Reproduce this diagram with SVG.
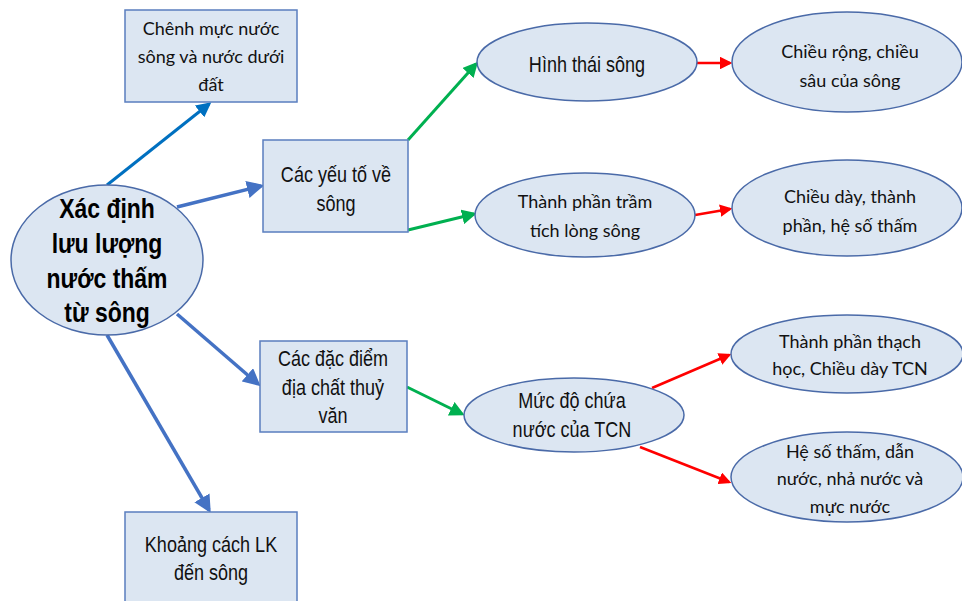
<svg xmlns="http://www.w3.org/2000/svg" width="962" height="601" viewBox="0 0 962 601">
<style>
.box{fill:#dce6f2;stroke:#5a7ebf;stroke-width:1.5}
.ell{fill:#dce6f2;stroke:#4a6aa8;stroke-width:1.5}
.n{font-family:"Liberation Sans",Arial,sans-serif;font-size:22px;fill:#111;text-anchor:middle}
.c{font-family:Lato,"Noto Sans",sans-serif;font-size:18px;fill:#111;text-anchor:middle}
.b{font-family:"Liberation Sans",Arial,sans-serif;font-size:28px;font-weight:bold;fill:#000;text-anchor:middle}
.blue1{stroke:#0070c0;stroke-width:3;fill:none}
.blue{stroke:#4472c4;stroke-width:3.5;fill:none}
.green{stroke:#00b050;stroke-width:3;fill:none}
.red{stroke:#ff0000;stroke-width:2.5;fill:none}
</style>
<defs>
<marker id="ab1" markerWidth="5" markerHeight="5" refX="4" refY="2.5" orient="auto" markerUnits="strokeWidth"><path d="M0,0 L5,2.5 L0,5 Z" fill="#0070c0"/></marker>
<marker id="ab" markerWidth="5" markerHeight="5" refX="4" refY="2.5" orient="auto" markerUnits="strokeWidth"><path d="M0,0 L5,2.5 L0,5 Z" fill="#4472c4"/></marker>
<marker id="ag" markerWidth="5" markerHeight="5" refX="4" refY="2.5" orient="auto" markerUnits="strokeWidth"><path d="M0,0 L5,2.5 L0,5 Z" fill="#00b050"/></marker>
<marker id="ar" markerWidth="5" markerHeight="5" refX="4" refY="2.5" orient="auto" markerUnits="strokeWidth"><path d="M0,0 L5,2.5 L0,5 Z" fill="#ff0000"/></marker>
</defs>
<rect width="962" height="601" fill="#fff"/>
<g id="connectors">
<line class="blue1" x1="107" y1="185" x2="209" y2="104" marker-end="url(#ab1)"/>
<line class="blue" x1="177" y1="207" x2="261" y2="186" marker-end="url(#ab)"/>
<line class="blue" x1="177" y1="314" x2="258" y2="384" marker-end="url(#ab)"/>
<line class="blue" x1="107" y1="335" x2="209" y2="510" marker-end="url(#ab)"/>
<line class="green" x1="408" y1="140" x2="476" y2="64" marker-end="url(#ag)"/>
<line class="green" x1="408" y1="230" x2="474" y2="214" marker-end="url(#ag)"/>
<line class="green" x1="407" y1="387" x2="462" y2="414" marker-end="url(#ag)"/>
<line class="red" x1="697" y1="63" x2="730" y2="63" marker-end="url(#ar)"/>
<line class="red" x1="695" y1="215" x2="730" y2="209" marker-end="url(#ar)"/>
<line class="red" x1="652" y1="388" x2="729" y2="355" marker-end="url(#ar)"/>
<line class="red" x1="640" y1="447" x2="729" y2="482" marker-end="url(#ar)"/>
</g>
<g id="center">
<ellipse class="ell" cx="107" cy="260" rx="96" ry="75"/>
<g transform="translate(107 0) scale(0.82 1)">
<text class="b" x="0" y="218">Xác định</text>
<text class="b" x="0" y="253">lưu lượng</text>
<text class="b" x="0" y="288">nước thấm</text>
<text class="b" x="0" y="322">từ sông</text>
</g>
</g>
<g id="chenh-muc-nuoc">
<rect class="box" x="125" y="10" width="172" height="92"/>
<text class="c" x="211" y="35">Chênh mực nước</text>
<text class="c" x="211" y="63">sông và nước dưới</text>
<text class="c" x="211" y="91">đất</text>
</g>
<g id="yeu-to-song">
<rect class="box" x="263" y="140" width="145" height="92"/>
<g transform="translate(336 0) scale(0.82 1)">
<text class="n" x="0" y="182">Các yếu tố về</text>
<text class="n" x="0" y="211">sông</text>
</g>
</g>
<g id="dia-chat-thuy-van">
<rect class="box" x="260" y="341" width="147" height="91"/>
<g transform="translate(333 0) scale(0.82 1)">
<text class="n" x="0" y="366">Các đặc điểm</text>
<text class="n" x="0" y="395">địa chất thuỷ</text>
<text class="n" x="0" y="423">văn</text>
</g>
</g>
<g id="khoang-cach">
<rect class="box" x="125" y="512" width="172" height="100"/>
<g transform="translate(211 0) scale(0.82 1)">
<text class="n" x="0" y="552">Khoảng cách LK</text>
<text class="n" x="0" y="580">đến sông</text>
</g>
</g>
<g id="hinh-thai-song">
<ellipse class="ell" cx="587" cy="62" rx="110" ry="39"/>
<g transform="translate(587 0) scale(0.82 1)">
<text class="n" x="0" y="72">Hình thái sông</text>
</g>
</g>
<g id="chieu-rong">
<ellipse class="ell" cx="847" cy="62" rx="115" ry="50"/>
<text class="c" x="850" y="58">Chiều rộng, chiều</text>
<text class="c" x="850" y="87">sâu của sông</text>
</g>
<g id="tram-tich">
<ellipse class="ell" cx="585" cy="215" rx="110" ry="42"/>
<text class="c" x="585" y="208">Thành phần trầm</text>
<text class="c" x="585" y="237">tích lòng sông</text>
</g>
<g id="chieu-day">
<ellipse class="ell" cx="847" cy="208" rx="115" ry="48"/>
<text class="c" x="850" y="203">Chiều dày, thành</text>
<text class="c" x="850" y="232">phần, hệ số thấm</text>
</g>
<g id="muc-do-chua">
<ellipse class="ell" cx="574" cy="415" rx="110" ry="37"/>
<g transform="translate(572 0) scale(0.82 1)">
<text class="n" x="0" y="408">Mức độ chứa</text>
<text class="n" x="0" y="437">nước của TCN</text>
</g>
</g>
<g id="thach-hoc">
<ellipse class="ell" cx="847" cy="354" rx="116" ry="39"/>
<text class="c" x="850" y="348">Thành phần thạch</text>
<text class="c" x="850" y="375">học, Chiều dày TCN</text>
</g>
<g id="he-so-tham">
<ellipse class="ell" cx="847" cy="477" rx="116" ry="45"/>
<text class="c" x="850" y="458">Hệ số thấm, dẫn</text>
<text class="c" x="850" y="485">nước, nhả nước và</text>
<text class="c" x="850" y="513">mực nước</text>
</g>
</svg>
